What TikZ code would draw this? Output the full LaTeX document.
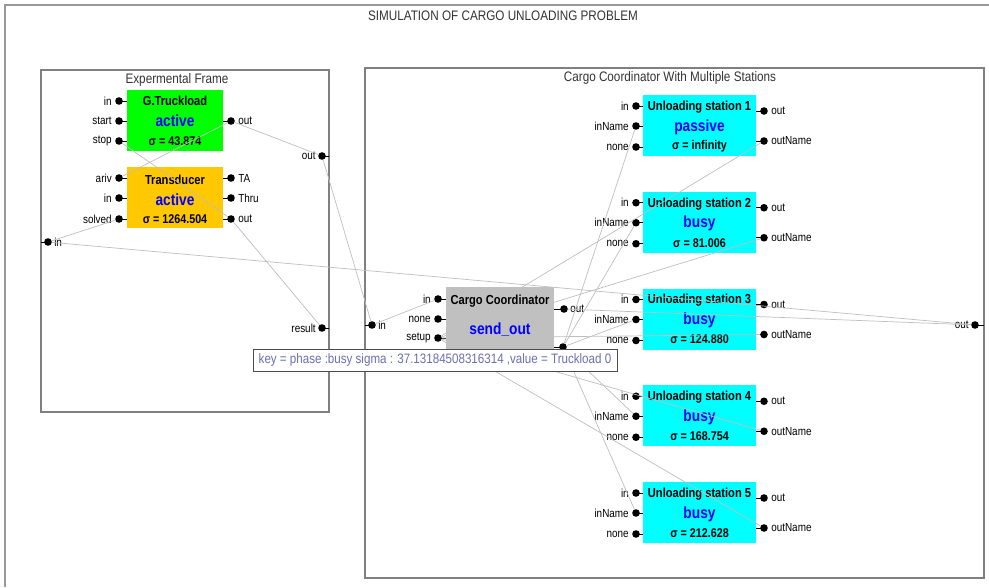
\documentclass[tikz,border=0pt]{standalone}
\usepackage{fontspec}
\newfontfamily\simfont{Liberation Sans}[FakeStretch=0.85]
\newcommand\fsz[1]{\simfont\fontsize{#1}{#1}\selectfont}
\begin{document}
\begin{tikzpicture}[x=0.025cm,y=-0.025cm,
  pdot/.style={circle,fill=black,inner sep=0pt,minimum size=0.19cm},
  plabl/.style={font=\fsz{8.3},inner sep=0pt,anchor=east},
  plabr/.style={font=\fsz{8.3},inner sep=0pt,anchor=west},
  frametitle/.style={font=\fsz{9.8},text=black!80,inner sep=0pt},
  mname/.style={font=\fsz{9.3}\bfseries,inner sep=0pt},
  mstate/.style={font=\fsz{11.5}\bfseries,text=blue,inner sep=0pt},
  msigma/.style={font=\fsz{9}\bfseries,inner sep=0pt},
  wire/.style={draw=wirecol,line width=0.5pt},
  frame/.style={draw=black!50,line width=1pt}]
 \definecolor{wirecol}{RGB}{190,190,190}
 \definecolor{gtcol}{RGB}{0,255,0}
 \definecolor{trcol}{RGB}{255,200,0}
 \definecolor{stcol}{RGB}{0,255,255}
 \definecolor{cocol}{RGB}{192,192,192}
 \definecolor{tipcol}{RGB}{110,110,180}
 \useasboundingbox (0,0) rectangle (989,587);
 % frames
 \draw[draw=black!40,line width=1pt] (5,587) -- (5,5) -- (989,5);
 \node[frametitle] (title) at (503,16) {SIMULATION OF CARGO UNLOADING PROBLEM};
 \draw[frame] (41,70) rectangle (329,412);
 \node[frametitle] (eftitle) at (177,80) {Expermental Frame};
 \draw[frame] (365,68) rectangle (984,578);
 \node[frametitle] (cctitle) at (670,78) {Cargo Coordinator With Multiple Stations};
 % experimental frame ports
 \node[pdot] (efin) at (48,242) {};
 \draw (41,242) -- (efin.center);
 \node[plabr] at (54,242) {in};
 \foreach \pn/\yp in {out/156,result/328} {
   \node[pdot] (ef\pn) at (322,\yp) {};
   \draw (ef\pn.center) -- (329,\yp);
   \node[plabl] at (316,\yp) {\pn};
 }
 % generator
 \fill[gtcol] (127,90) rectangle (223,151);
 \node[mname] at (175,101) {G.Truckload};
 \node[mstate] at (175,121) {active};
 \node[msigma] at (175,141) {σ = 43.874};
 \foreach \pn/\yp in {in/101,start/121,stop/141} {
   \node[pdot] (gt\pn) at (119,\yp) {};
   \draw (gt\pn.center) -- (127,\yp);
   \node[plabl] at (112,\yp) {\pn};
 }
 \node[pdot] (gtout) at (231,121) {};
 \draw (223,121) -- (gtout.center);
 \node[plabr] at (238,121) {out};
 % transducer
 \fill[trcol] (127,167) rectangle (223,228);
 \node[mname] at (175,180) {Transducer};
 \node[mstate] at (175,200) {active};
 \node[msigma] at (175,219) {σ = 1264.504};
 \foreach \pn/\yp in {ariv/178,in/198,solved/219} {
   \node[pdot] (tr\pn) at (119,\yp) {};
   \draw (tr\pn.center) -- (127,\yp);
   \node[plabl] at (112,\yp) {\pn};
 }
 \foreach \pn/\yp in {TA/178,Thru/198,out/219} {
   \node[pdot] (tr\pn) at (231,\yp) {};
   \draw (223,\yp) -- (tr\pn.center);
   \node[plabr] at (238,\yp) {\pn};
 }
 % coupled model ports
 \node[pdot] (ccin) at (372,325) {};
 \draw (365,325) -- (ccin.center);
 \node[plabr] at (378,325) {in};
 \node[pdot] (ccout) at (975,325) {};
 \draw (ccout.center) -- (984,325);
 \node[plabl] at (969,325) {out};
 % unloading stations
 \foreach \k/\st/\sg in {1/passive/infinity,2/busy/81.006,3/busy/124.880,
   4/busy/168.754,5/busy/212.628} {
   \pgfmathsetmacro\tp{95+(\k-1)*96.75}
   \fill[stcol] (643,\tp) rectangle (756,\tp+61);
   \node[mname] at (699.5,\tp+12) {Unloading station \k};
   \node[mstate] at (699.5,\tp+32) {\st};
   \node[msigma] at (699.5,\tp+51) {σ = \sg};
   \foreach \pn/\dy in {in/11,inName/31,none/52} {
     \node[pdot] (s\k\pn) at (636,\tp+\dy) {};
     \draw (s\k\pn.center) -- (643,\tp+\dy);
     \node[plabl] at (629,\tp+\dy) {\pn};
   }
   \foreach \pn/\dy in {out/16,outName/46} {
     \node[pdot] (s\k\pn) at (764,\tp+\dy) {};
     \draw (756,\tp+\dy) -- (s\k\pn.center);
     \node[plabr] at (771,\tp+\dy) {\pn};
   }
 }
 % coordinator ports
 \foreach \pn/\yp in {in/299,none/319,setup/338} {
   \node[pdot] (co\pn) at (438,\yp) {};
   \draw (co\pn.center) -- (446,\yp);
   \node[plabl] at (431,\yp) {\pn};
 }
 \node[pdot] (coout) at (564,309) {};
 \draw (554,309) -- (coout.center);
 \node[plabr] at (570,309) {out};
 \node[pdot] (coy) at (563,347) {};
 \draw (554,347) -- (coy.center);
 % couplings
 \draw[wire] (gtout) -- (efout);
 \draw[wire] (gtout) -- (trariv);
 \draw[wire] (efin) -- (trsolved);
 \draw[wire] (trout) -- (efresult);
 \draw[wire] (trout) -- (gtstop);
 \draw[wire] (efout) -- (ccin);
 \draw[wire] (ccin) -- (coin);
 \draw[wire] (ccout) -- (efin);
 \draw[wire] (coout) -- (ccout);
 \foreach \k in {1,...,5} {
   \draw[wire] (coy) -- (s\k inName);
   \draw[wire] (s\k outName) -- (cosetup);
 }
 % coordinator
 \fill[cocol] (446,287) rectangle (554,350);
 \node[mname] at (500,301) {Cargo Coordinator};
 \node[mstate] at (500,330) {send\_out};
 % tooltip
 \node[draw=black!70,fill=white,line width=0.6pt,minimum width=9.1cm,
   minimum height=0.55cm,inner sep=0pt,font=\fsz{9.7},text=tipcol]
   (tip) at (435,360) {key = phase :busy sigma : 37.13184508316314 ,value = Truckload 0};
\end{tikzpicture}
\end{document}
